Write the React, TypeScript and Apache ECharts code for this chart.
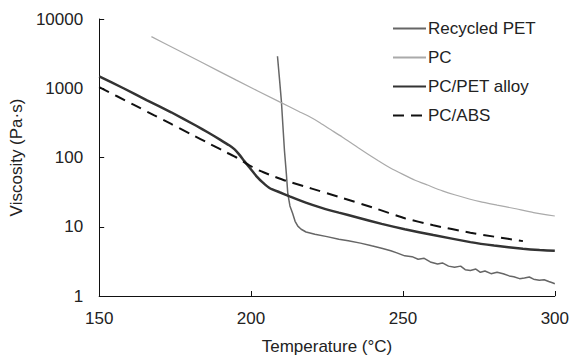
import React, { useEffect, useRef } from "react";
import * as echarts from "echarts";

const seriesNames = ["Recycled PET", "PC", "PC/PET alloy", "PC/ABS"];

const recycledPET: [number, number][] = [
  [208.7, 2900], [209.4, 1300], [210, 640], [210.5, 280], [211, 125], [211.6, 60],
  [212.1, 30], [212.8, 20], [213.7, 15.5], [214.5, 12], [215.4, 10.2], [216.5, 9.2],
  [218.1, 8.4], [221, 7.8], [225, 7.2], [228.9, 6.6], [232, 6.3], [236, 5.8],
  [239.7, 5.3], [243, 4.9], [246, 4.5], [248, 4.2], [250.6, 3.8], [253, 3.7],
  [255, 3.4], [257, 3.5], [259, 3.1], [261.4, 2.9], [263, 3.0], [265, 2.7],
  [267, 2.6], [269, 2.7], [270.5, 2.4], [272.2, 2.34], [274, 2.45], [275.5, 2.2],
  [277, 2.3], [279, 2.1], [281, 2.2], [283, 2.1], [285, 1.95], [286.5, 1.9],
  [288.4, 1.78], [290, 1.82], [291.6, 1.88], [293, 1.75], [294.9, 1.69], [296.5, 1.72],
  [298, 1.62], [299.2, 1.55], [300, 1.5],
];

const pc: [number, number][] = [
  [167.2, 5560], [175, 3720], [183.4, 2410], [195, 1320], [209.4, 635], [215.9, 459],
  [219, 393], [222.4, 323], [225.6, 262], [230, 198], [235.4, 137], [241.9, 90],
  [246, 70], [250, 57], [254, 47], [258.1, 40], [263, 33], [267, 29], [275.4, 23],
  [281, 20.5], [286.3, 18.5], [293, 16], [300, 14.3],
];

const pcPetAlloy: [number, number][] = [
  [150, 1480], [158, 1000], [165.6, 672], [173.7, 450], [181.8, 290], [186, 228],
  [189.9, 180], [192.8, 150], [194.5, 132], [196, 112], [197.5, 92], [199, 76],
  [201.9, 53], [204, 43], [206.2, 36], [209.4, 31.5], [212.7, 27.5], [218, 22.3],
  [223.5, 18.6], [228.9, 16], [235, 13.6], [243, 11], [250.6, 9.2], [260, 7.6],
  [272.2, 6], [280, 5.35], [289.5, 4.8], [295, 4.6], [300, 4.5],
];

const pcAbs: [number, number][] = [
  [150, 1040], [161.3, 580], [168, 409], [173.7, 305], [180, 220], [186.7, 155],
  [192, 118], [195.4, 99], [199.7, 76], [203, 64], [207.2, 54], [211.6, 46],
  [220, 35.5], [228.9, 27], [240, 19], [250.6, 13.3], [260, 10.5], [272.2, 8.2],
  [280, 7.2], [289.5, 6.2],
];

const xTicks = { min: 150, max: 300, interval: 50 };
const yRange = { min: 1, max: 10000 };

const FONT = "Liberation Sans, Arial, sans-serif";

export default function App() {
  const ref = useRef<HTMLDivElement>(null);
  useEffect(() => {
    if (!ref.current) return;
    const chart = echarts.init(ref.current, undefined, { renderer: "svg" });
    const axisLine = { show: true, lineStyle: { color: "#111", width: 1 } };
    const lineSeries = (name: string, data: [number, number][], color: string, width: number, extra: any = {}) => ({
      name,
      type: "line",
      data,
      symbol: "none",
      showSymbol: false,
      lineStyle: { color, width, ...(extra.type ? { type: extra.type } : {}) },
      itemStyle: { color },
      smooth: extra.smooth ?? false,
    });
    chart.setOption({
      animation: false,
      backgroundColor: "#fff",
      textStyle: { fontFamily: FONT },
      grid: { left: 97, right: 13, top: 19, bottom: 59 },
      legend: {
        orient: "vertical",
        left: 387,
        top: 15,
        itemWidth: 33,
        itemHeight: 14,
        itemGap: 12,
        itemStyle: { opacity: 0 },
        textStyle: { fontSize: 17, color: "#222", fontFamily: FONT, padding: [0, 0, 0, -3] },
        data: seriesNames,
      },
      xAxis: {
        type: "value",
        min: xTicks.min,
        max: xTicks.max,
        interval: xTicks.interval,
        name: "Temperature (°C)",
        nameLocation: "middle",
        nameGap: 42,
        nameTextStyle: { fontSize: 17, color: "#222", fontFamily: FONT },
        axisLine,
        axisTick: { show: true, inside: true, length: 5, lineStyle: { color: "#111" } },
        axisLabel: { fontSize: 17, color: "#222", margin: 14, fontFamily: FONT },
        splitLine: { show: false },
      },
      yAxis: {
        type: "log",
        logBase: 10,
        min: yRange.min,
        max: yRange.max,
        name: "Viscosity (Pa·s)",
        nameLocation: "middle",
        nameGap: 70,
        nameTextStyle: { fontSize: 17, color: "#222", fontFamily: FONT },
        axisLine,
        axisTick: { show: true, inside: true, length: 5, lineStyle: { color: "#111" } },
        axisLabel: {
          fontSize: 17,
          color: "#222",
          margin: 16,
          fontFamily: FONT,
          formatter: (v: number) => String(Math.round(v)),
        },
        splitLine: { show: false },
        minorTick: { show: false },
      },
      series: [
        lineSeries(seriesNames[0], recycledPET, "#666", 1.5),
        lineSeries(seriesNames[1], pc, "#aaa", 1.2, { smooth: 0.2 }),
        lineSeries(seriesNames[2], pcPetAlloy, "#333", 2.5, { smooth: 0.15 }),
        lineSeries(seriesNames[3], pcAbs, "#111", 2, { smooth: 0.2, type: [11, 7] }),
      ],
    });
    return () => chart.dispose();
  }, []);
  return <div ref={ref} style={{ width: 572, height: 360, position: "absolute", left: 0, top: 0 }} />;
}
